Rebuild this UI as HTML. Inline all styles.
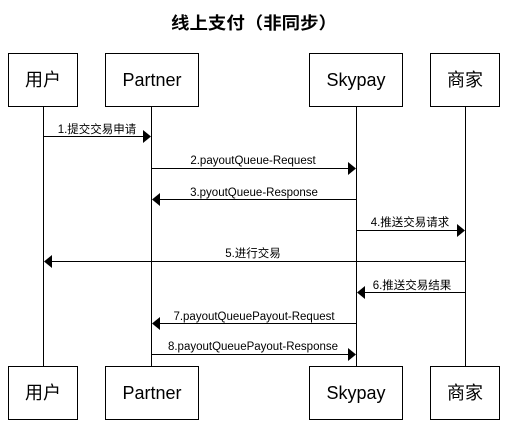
<!DOCTYPE html>
<html><head><meta charset="utf-8"><style>html,body{margin:0;padding:0;background:#fff}svg{display:block}</style></head>
<body>
<svg width="508" height="433" viewBox="0 0 508 433" xmlns="http://www.w3.org/2000/svg" font-family="Liberation Sans, Noto Sans CJK SC, sans-serif">
<text x="254" y="29" text-anchor="middle" font-size="17" font-weight="bold" textLength="166" lengthAdjust="spacingAndGlyphs">线上支付（非同步）</text>
<g stroke="#000" stroke-width="1" fill="none">
<line x1="43.5" y1="106" x2="43.5" y2="366"/>
<line x1="151.5" y1="106" x2="151.5" y2="366"/>
<line x1="356.5" y1="106" x2="356.5" y2="366"/>
<line x1="465.5" y1="106" x2="465.5" y2="366"/>
<rect x="8.5" y="53.5" width="69" height="53" fill="#fff"/>
<rect x="105.5" y="53.5" width="93" height="53" fill="#fff"/>
<rect x="309.5" y="53.5" width="93" height="53" fill="#fff"/>
<rect x="430.5" y="53.5" width="69" height="53" fill="#fff"/>
<rect x="8.5" y="366.5" width="69" height="53" fill="#fff"/>
<rect x="105.5" y="366.5" width="93" height="53" fill="#fff"/>
<rect x="309.5" y="366.5" width="93" height="53" fill="#fff"/>
<rect x="430.5" y="366.5" width="69" height="53" fill="#fff"/>
<line x1="43" y1="136.5" x2="143" y2="136.5"/>
<line x1="151" y1="168.5" x2="348" y2="168.5"/>
<line x1="160" y1="199.5" x2="356" y2="199.5"/>
<line x1="356" y1="230.5" x2="457" y2="230.5"/>
<line x1="52" y1="261.5" x2="465" y2="261.5"/>
<line x1="365" y1="292.5" x2="465" y2="292.5"/>
<line x1="160" y1="323.5" x2="356" y2="323.5"/>
<line x1="151" y1="354.5" x2="348" y2="354.5"/>
</g>
<g fill="#000">
<polygon points="143,130 151,136.5 143,143"/>
<polygon points="348,162 356,168.5 348,175"/>
<polygon points="160,193 152,199.5 160,206"/>
<polygon points="457,224 465,230.5 457,237"/>
<polygon points="52,255 44,261.5 52,268"/>
<polygon points="365,286 357,292.5 365,299"/>
<polygon points="160,317 152,323.5 160,330"/>
<polygon points="348,348 356,354.5 348,361"/>
</g>
<g font-size="18" text-anchor="middle">
<text x="43" y="86">用户</text><text x="152" y="86">Partner</text><text x="356" y="86">Skypay</text><text x="465" y="86">商家</text>
<text x="43" y="399">用户</text><text x="152" y="399">Partner</text><text x="356" y="399">Skypay</text><text x="465" y="399">商家</text>
</g>
<g font-size="11.5" text-anchor="middle">
<text x="97" y="133">1.提交交易申请</text>
<text x="253" y="164">2.payoutQueue-Request</text>
<text x="254" y="196">3.pyoutQueue-Response</text>
<text x="410" y="226">4.推送交易请求</text>
<text x="253" y="257">5.进行交易</text>
<text x="412" y="289">6.推送交易结果</text>
<text x="254" y="320">7.payoutQueuePayout-Request</text>
<text x="253" y="350">8.payoutQueuePayout-Response</text>
</g>
</svg>
</body></html>
